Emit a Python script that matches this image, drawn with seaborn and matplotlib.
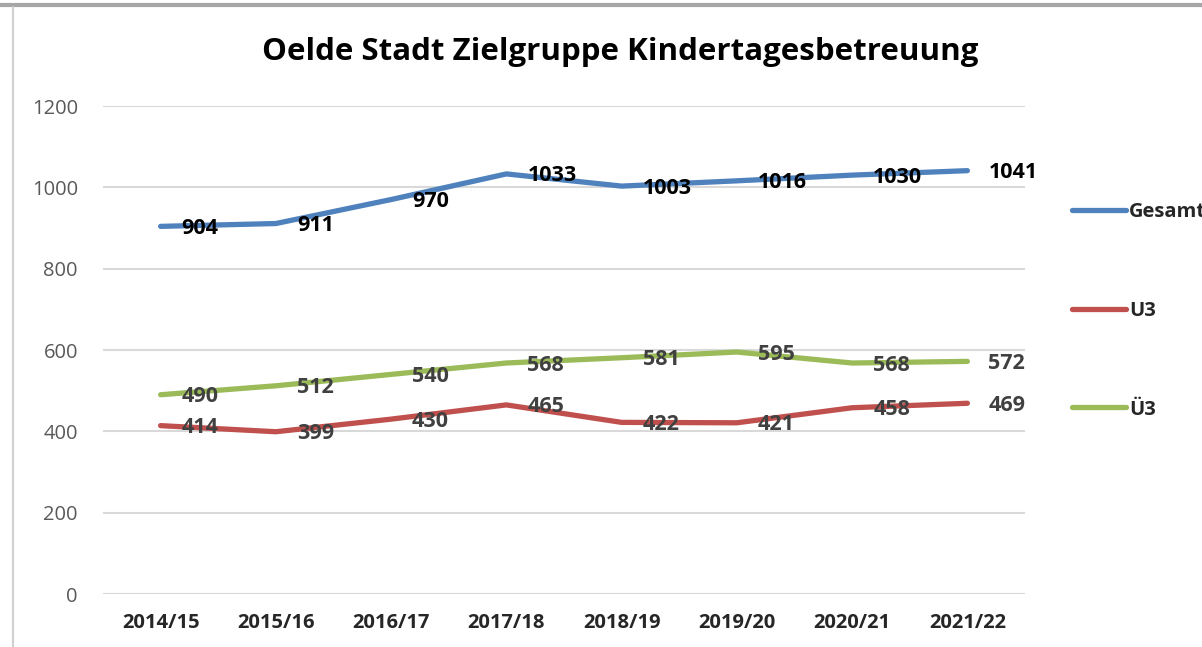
import pandas as pd
import numpy as np
import seaborn as sns
import matplotlib.pyplot as plt
from matplotlib.lines import Line2D

# daten
jahre = ['2014/15', '2015/16', '2016/17', '2017/18', '2018/19', '2019/20', '2020/21', '2021/22']
gesamt = [904, 911, 970, 1033, 1003, 1016, 1030, 1041]
u3 = [414, 399, 430, 465, 422, 421, 458, 469]
ue3 = [490, 512, 540, 568, 581, 595, 568, 572]
reihen = ['Gesamt', 'U3', 'Ü3']
farben = {'Gesamt': '#4F81BD', 'U3': '#C0504D', 'Ü3': '#9BBB59'}
label_farben = {'Gesamt': '#000000', 'U3': '#404040', 'Ü3': '#404040'}

df = pd.DataFrame({
    'Jahr': jahre * 3,
    'Wert': gesamt + u3 + ue3,
    'Reihe': ['Gesamt'] * 8 + ['U3'] * 8 + ['Ü3'] * 8,
})

sns.set_style('white')
plt.rcParams['font.family'] = ['Open Sans', 'DejaVu Sans']

fig = plt.figure(figsize=(12.02, 6.47), dpi=100)
ax = fig.add_axes([103 / 1202, 1 - 594 / 647, 922 / 1202, 488 / 647])

sns.lineplot(data=df, x='Jahr', y='Wert', hue='Reihe', hue_order=reihen,
             palette=farben, linewidth=3.8, sort=False, ax=ax)
for line in ax.get_lines():
    line.set_solid_capstyle('round')

# datenbeschriftungen
for name, werte in zip(reihen, [gesamt, u3, ue3]):
    for i, v in enumerate(werte):
        ax.annotate(str(v), (i, v), xytext=(21, -2), textcoords='offset pixels',
                    ha='left', va='center', fontsize=15.5, fontweight='bold',
                    color=label_farben[name])

ax.set_xlim(-0.5, 7.5)
ax.set_ylim(0, 1200)
ax.set_yticks(range(0, 1201, 200))
ax.yaxis.grid(True, color='#D9D9D9', linewidth=1.5)
ax.set_axisbelow(True)
for s in ax.spines.values():
    s.set_visible(False)
ax.tick_params(axis='y', labelsize=14.5, labelcolor='#595959', length=0, pad=18)
ax.tick_params(axis='x', labelsize=14.5, length=0, pad=14)
for t in ax.get_xticklabels():
    t.set_fontweight('bold')
ax.set_xlabel('')
ax.set_ylabel('')

ax.legend(loc='center left', bbox_to_anchor=(1072 / 1202, 1 - 311 / 647),
          bbox_transform=fig.transFigure, frameon=False,
          prop={'weight': 'bold', 'size': 14.5}, handlelength=2.7,
          handletextpad=0.12, labelspacing=3.9, borderpad=0, borderaxespad=0)

fig.text(620 / 1202, 1 - 52 / 647, 'Oelde Stadt Zielgruppe Kindertagesbetreuung',
         ha='center', va='center', fontsize=22.5, fontweight='bold', color='#000000')

# rahmen des screenshots
fig.add_artist(Line2D([0, 1], [1 - 5 / 647, 1 - 5 / 647], color='#A6A6A6', linewidth=3))
fig.add_artist(Line2D([13 / 1202, 13 / 1202], [0, 1 - 7 / 647], color='#D0D0D0', linewidth=1.5))

fig.savefig('out.png', dpi=100)
